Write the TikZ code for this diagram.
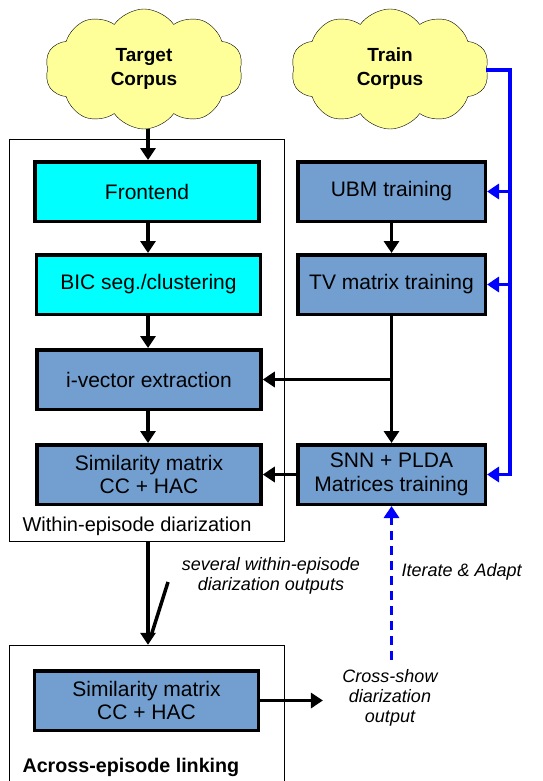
\documentclass[tikz,border=0pt]{standalone}
\usepackage{fontspec}
\setmainfont{Liberation Sans}
\usetikzlibrary{arrows.meta}
\usetikzlibrary{shapes.symbols}

\definecolor{stageblue}{HTML}{729FCF}
\definecolor{stagecyan}{HTML}{00FFFF}
\definecolor{cloudyellow}{HTML}{FFFF99}

\begin{document}
\begin{tikzpicture}[x=1pt, y=-1pt,
    corpus/.style={cloud, cloud puffs=10, cloud puff arc=110, cloud ignores aspect, draw, thin, fill=cloudyellow, minimum width=198pt, minimum height=120pt, align=center, font=\fontsize{19}{24}\selectfont\bfseries},
    stage/.style={draw, line width=3.5pt, fill=stageblue, align=center, minimum height=59.5pt, font=\fontsize{21}{23.5}\selectfont},
    leftstage/.style={stage, minimum width=224pt},
    rightstage/.style={stage, minimum width=187.5pt},
    frame/.style={draw, thin, minimum width=275pt, inner sep=0pt},
    flow/.style={line width=3.5pt, -{Triangle[length=12pt, width=15pt]}},
    feed/.style={blue, line width=3.5pt, -{Triangle[length=12pt, width=15pt]}},
    note/.style={align=center, font=\fontsize{18}{20}\selectfont\itshape}]
      \def\busx{510}
      \useasboundingbox (0,0) rectangle (542,781);

      % outer frames
      \node[frame, minimum height=402pt] (within) at (146.5,340) {};
      \node[frame, minimum height=150pt] (linking) at (146.5,720) {};
      \node[anchor=base west, font=\fontsize{20}{24}\selectfont] (withinlabel) at (19,531) {Within-episode diarization};
      \node[anchor=base west, font=\fontsize{19.7}{24}\selectfont\bfseries] (linkinglabel) at (19,772) {Across-episode linking};

      % corpora
      \node[corpus] (target) at (144,69) {Target\\Corpus};
      \node[corpus] (train) at (390,69) {Train\\Corpus};

      % left column
      \coordinate (lx) at (148,0);
      \node[leftstage, fill=stagecyan] (frontend) at (147,191.5) {Frontend};
      \node[leftstage, fill=stagecyan] (bic) at (148.5,284.5) {BIC seg./clustering};
      \node[leftstage] (ivector) at (149,379.5) {i-vector extraction};
      \node[leftstage] (simwithin) at (149,474.5) {Similarity matrix\\CC + HAC};

      % right column
      \node[rightstage] (ubm) at (391.5,191.5) {UBM training};
      \node[rightstage] (tv) at (391.5,284.5) {TV matrix training};
      \node[rightstage] (snn) at (391.5,474.5) {SNN + PLDA\\Matrices training};

      \node[leftstage] (simacross) at (146.5,700.5) {Similarity matrix\\CC + HAC};

      \draw[flow] (target.south -| lx) -- (frontend.north -| lx);
      \draw[flow] (frontend.south -| lx) -- (bic.north -| lx);
      \draw[flow] (bic.south -| lx) -- (ivector.north -| lx);
      \draw[flow] (ivector.south -| lx) -- (simwithin.north -| lx);
      \draw[flow] (ubm) -- (tv);
      \draw[flow] (tv) -- (snn);
      \coordinate (branch) at (tv.south |- ivector.east);
      \draw[flow] (branch) -- (ivector.east);
      \draw[flow] (snn.west) -- (simwithin.east);

      % train corpus feed
      \coordinate (bustop) at (\busx,70);
      \draw[feed] (train.east |- bustop) -- (bustop) -- (bustop |- snn.east) -- (snn.east);
      \draw[feed] (bustop |- ubm.east) -- (ubm.east);
      \draw[feed] (bustop |- tv.east) -- (tv.east);

      % across episodes
      \coordinate (fork) at (168,582);
      \draw[flow] (within.south -| lx) -- (linking.north -| lx);
      \draw[line width=3.5pt] (fork) -- (151,636);
      \node[note] (several) at (271,576) {several within-episode\\diarization outputs};

      \node[note] (crossshow) at (390,698) {Cross-show\\diarization\\output};
      \draw[flow, shorten >=16pt] (simacross.east) -- (simacross.east -| crossshow.west);
      \draw[feed, dashed, dash pattern=on 9pt off 6pt] (391.5,660) -- (snn.south);
      \node[note, anchor=west] (iterate) at (398,572) {Iterate \& Adapt};

    \end{tikzpicture}
\end{document}
